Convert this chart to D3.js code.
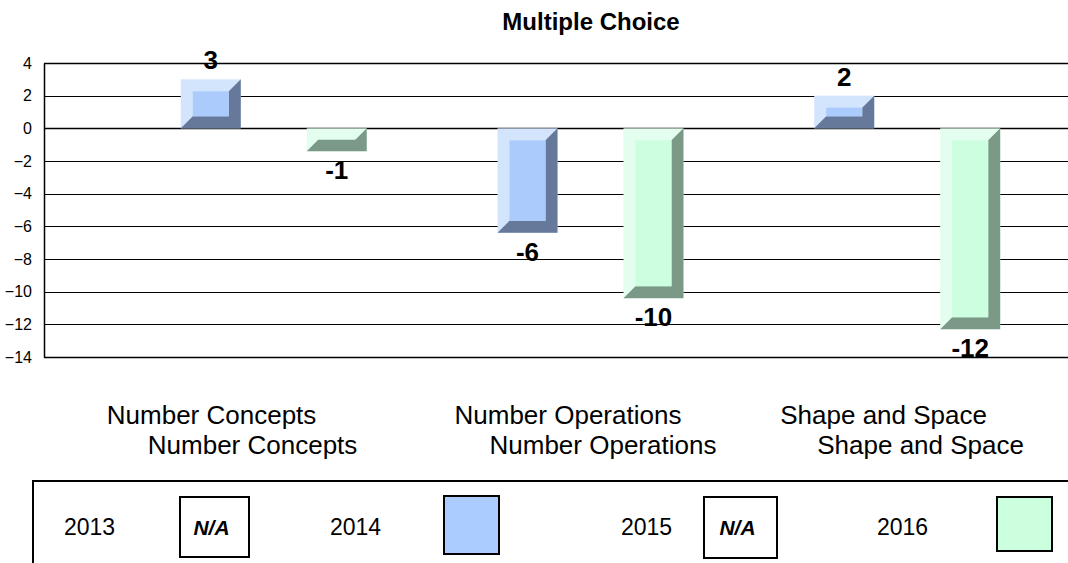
<!DOCTYPE html>
<html>
<head>
<meta charset="utf-8">
<script src="https://cdn.jsdelivr.net/npm/d3@7"></script>
<style>
  html, body { margin: 0; padding: 0; background: #fff; }
  svg { display: block; }
  text { font-family: "Liberation Sans", Arial, sans-serif; fill: #000; }
</style>
</head>
<body>
<svg id="chart" width="1068" height="563"></svg>
<script>
// ---- data ----
const title = "Multiple Choice";
const categories = ["Number Concepts", "Number Operations", "Shape and Space"];
const seriesNames = ["2013", "2014", "2015", "2016"];
const values2013 = [null, null, null];
const values2014 = [3, -6.4, 2];
const values2015 = [null, null, null];
const values2016 = [-1.4, -10.4, -12.3];
const yTicks = [4, 2, 0, -2, -4, -6, -8, -10, -12, -14];
const legendNA = "N/A";

// ---- layout / style ----
const W = 1068, H = 563;
const plot = { left: 44, right: 1068, top: 63, bottom: 357 };
const palette = {
  "2014": { light: "#d3e4fd", main: "#aacbfb", dark: "#66799a" },
  "2016": { light: "#e3fdee", main: "#ccfee0", dark: "#7b9987" }
};
const legendFill = { "2014": "#aaccff", "2016": "#ccffdd" };

const svg = d3.select("#chart");

const y = d3.scaleLinear().domain([-14, 4]).range([plot.bottom, plot.top]);
const x0 = d3.scaleBand().domain(categories).range([44, 1074]).paddingInner(0.214).paddingOuter(0.233);
const x1 = d3.scaleBand().domain(seriesNames).range([0, x0.bandwidth()]).paddingInner(3 / 63);

// title
svg.append("text").attr("x", 591).attr("y", 30).attr("text-anchor", "middle")
  .style("font-weight", "bold").style("font-size", "24px").text(title);

// gridlines
svg.append("g").selectAll("line").data(yTicks).join("line")
  .attr("x1", plot.left).attr("x2", plot.right)
  .attr("y1", d => Math.round(y(d)) + 0.5).attr("y2", d => Math.round(y(d)) + 0.5)
  .attr("stroke", "#000").attr("stroke-width", d => (d === 0 || d === -14 || d === 4) ? 1.5 : 1);

// y axis
const yAxis = d3.axisLeft(y).tickValues(yTicks).tickSize(0).tickPadding(12).tickFormat(d3.format("d"));
const gY = svg.append("g").attr("transform", `translate(${plot.left},0)`).call(yAxis);
gY.select(".domain").attr("stroke", "#000").attr("stroke-width", 1.5);
gY.selectAll("text").style("font-size", "16px").style("font-family", '"Liberation Sans", Arial, sans-serif').attr("fill", "#000");

// bars
const seriesData = { "2013": values2013, "2014": values2014, "2015": values2015, "2016": values2016 };
const bars = [];
categories.forEach((c, i) => {
  seriesNames.forEach(s => {
    const v = seriesData[s][i];
    if (v !== null && v !== undefined) bars.push({ cat: c, series: s, value: v });
  });
});

const gBars = svg.append("g");
bars.forEach(d => {
  const L = x0(d.cat) + x1(d.series);
  const R = L + x1.bandwidth();
  const T = y(Math.max(0, d.value));
  const B = y(Math.min(0, d.value));
  const h = B - T;
  const b = Math.min(12, h / 2);
  const l = L + b, r = R - b, t = T + b, bt = B - b;
  const col = palette[d.series];
  gBars.append("rect").attr("x", L).attr("y", T).attr("width", R - L).attr("height", h).attr("fill", col.light);
  gBars.append("polygon")
    .attr("points", [[R, T], [R, B], [L, B], [l, bt], [r, bt], [r, t]].map(p => p.join(",")).join(" "))
    .attr("fill", col.dark);
  if (bt > t) gBars.append("rect").attr("x", l).attr("y", t).attr("width", r - l).attr("height", bt - t).attr("fill", col.main);
  // value label
  gBars.append("text")
    .attr("x", (L + R) / 2)
    .attr("y", d.value >= 0 ? T - 10 : B + 28)
    .attr("text-anchor", "middle")
    .style("font-weight", "bold").style("font-size", "26px")
    .text(Math.round(d.value));
});

// category labels (two offset lines each, as in the original)
const catLine1Offset = [-11, 20, 29];
const catLine2Offset = [30, 55, 66];
categories.forEach((c, i) => {
  svg.append("text").attr("x", x0(c) + catLine1Offset[i]).attr("y", 424).style("font-size", "26px").text(c);
  svg.append("text").attr("x", x0(c) + catLine2Offset[i]).attr("y", 454).style("font-size", "26px").text(c);
});

// legend
svg.append("path").attr("d", `M${W + 5},481 L33,481 L33,${H + 5}`).attr("fill", "none").attr("stroke", "#000").attr("stroke-width", 2);
const legendItems = [
  { s: "2013", tx: 64, bx: 180, bw: 69, by: 497, bh: 60, na: true },
  { s: "2014", tx: 330, bx: 444, bw: 55, by: 496, bh: 58, na: false },
  { s: "2015", tx: 621, bx: 704, bw: 73, by: 497, bh: 61, na: true },
  { s: "2016", tx: 877, bx: 997, bw: 55, by: 497, bh: 54, na: false }
];
legendItems.forEach(it => {
  svg.append("text").attr("x", it.tx).attr("y", 535).style("font-size", "23px").text(it.s);
  svg.append("rect").attr("x", it.bx).attr("y", it.by).attr("width", it.bw).attr("height", it.bh)
    .attr("fill", it.na ? "#fff" : legendFill[it.s]).attr("stroke", "#000").attr("stroke-width", 2);
  if (it.na) {
    svg.append("text").attr("x", it.bx + it.bw / 2 - 3).attr("y", 535).attr("text-anchor", "middle")
      .style("font-weight", "bold").style("font-style", "italic").style("font-size", "21px").text(legendNA);
  }
});
</script>
</body>
</html>
